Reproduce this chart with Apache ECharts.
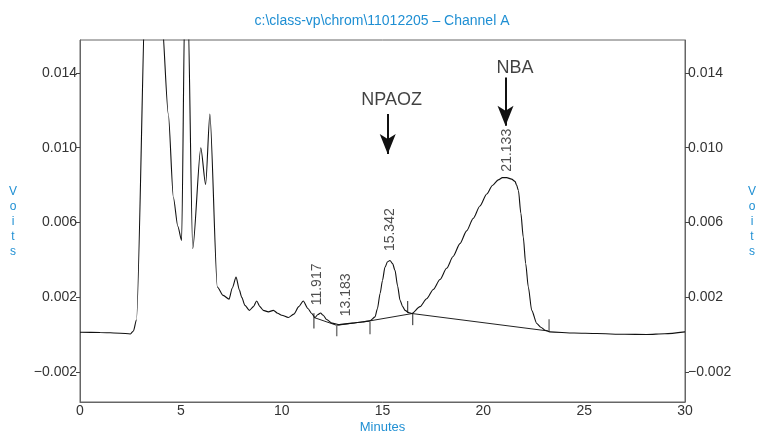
<!DOCTYPE html>
<html><head><meta charset="utf-8">
<script src="https://cdn.jsdelivr.net/npm/echarts@6/dist/echarts.min.js"></script>
<style>html,body{margin:0;padding:0;background:#fff}#c{width:757px;height:432px}</style>
</head><body><div id="c"></div>
<script>
// ---- data ----
const titleText = 'c:\\class-vp\\chrom\\11012205 \u2013 Channel A';
const xName = 'Minutes';
const yName = 'V\no\ni\nt\ns';
const yTickValues = [-0.002, 0.002, 0.006, 0.010, 0.014];
const signalTime = [0,1.0,2.0,2.5,2.65,2.8,3.3,3.7,4.05,4.38,4.63,4.85,5.04,5.2,5.27,5.34,5.59,5.99,6.23,6.44,6.81,7.1,7.39,7.55,7.74,7.9,8.02,8.18,8.4,8.6,8.76,8.92,9.09,9.34,9.59,9.8,10.0,10.33,10.6,10.85,11.07,11.3,11.49,11.65,11.8,11.93,12.05,12.23,12.5,12.81,13.5,14.0,14.38,14.63,14.75,14.88,15.0,15.12,15.25,15.37,15.5,15.62,15.75,15.87,16.0,16.12,16.3,16.45,16.86,17.19,17.52,17.85,18.18,18.5,18.84,19.17,19.5,19.83,20.17,20.45,20.74,20.95,21.16,21.4,21.57,21.65,21.74,21.86,21.98,22.1,22.23,22.4,22.65,22.85,23.06,23.3,24.5,25.62,27.0,28.1,29.0,30.0];
const signalVolts = [0.00013,0.00012,0.00008,0.00004,0.0002,0.0008,0.0205,0.03,0.0170,0.0118,0.00735,0.0058,0.00504,0.018,0.022,0.018,0.0046,0.0100,0.00803,0.0118,0.00255,0.0021,0.0019,0.0025,0.00308,0.0024,0.0020,0.00157,0.0013,0.0015,0.0018,0.0015,0.0013,0.00122,0.0013,0.00115,0.00104,0.00092,0.0011,0.0015,0.0018,0.0014,0.00113,0.00092,0.00108,0.00116,0.00105,0.00081,0.00062,0.00054,0.00062,0.00068,0.00074,0.00095,0.0014,0.0022,0.0029,0.0036,0.0039,0.00397,0.0038,0.00344,0.0026,0.00184,0.0015,0.0013,0.00118,0.00113,0.0015,0.00192,0.00242,0.00295,0.00355,0.00418,0.00487,0.00555,0.00622,0.00688,0.00752,0.00798,0.00828,0.0084,0.0084,0.00832,0.0082,0.0080,0.00771,0.0065,0.00522,0.0038,0.00255,0.0013,0.0006,0.0004,0.00024,0.00015,0.00009,0.00006,0.00002,0.00001,0.00005,0.00015];
// integration baselines: [t, v] points per segment
const baselineA = [[11.6, 0.00092],[12.73, 0.0005]];
const baselineB = [[12.73, 0.0005],[14.38, 0.00074],[16.47, 0.00113]];
const baselineC = [[16.47, 0.00113],[23.2, 0.0002]];
// integration tick marks: [t, vTop, vBottom]
const darkTicks = [[11.6, 0.00115, 0.00033],[16.25, 0.0018, 0.00117],[16.5, 0.00114, 0.00051]];
const grayTicks = [[12.73, 0.00051, -0.00008],[14.38, 0.00068, 0.00003],[23.26, 0.00082, 0.00019]];
// retention time labels: [t, v, text]
const peakLabels = [[11.75, 0.00157, '11.917'],[13.2, 0.00099, '13.183'],[15.4, 0.00447, '15.342'],[21.2, 0.00872, '21.133']];
// compound annotations: name, text position [t,v], arrow [t, vStart, vEnd]
const compoundNames = ['NPAOZ', 'NBA'];
const compoundTextPos = [[15.45, 0.01256],[21.57, 0.01427]];
const compoundArrows = [[15.26, 0.0118, 0.00966],[21.1, 0.01375, 0.01117]];

// ---- chart ----
const blue = '#1f8fd3';
const FF = 'Liberation Sans, Arial';
const chart = echarts.init(document.getElementById('c'), null, {renderer:'canvas'});
const fmt = v => (v < 0 ? '\u2212' : '') + Math.abs(v).toFixed(3);
const yAxisCommon = {
  type: 'value', min: -0.0036, max: 0.01576,
  splitLine: {show:false},
  axisLine: {show:true, lineStyle:{color:'#666', width:1}},
  axisTick: {show:true, length:4, inside:false, customValues: yTickValues, lineStyle:{color:'#444'}},
  axisLabel: {customValues: yTickValues, formatter: fmt, color:'#333', fontSize:14, fontFamily:FF, margin:3}
};
const series = [];
series.push({type:'line', data: signalTime.map((t,i)=>[t, signalVolts[i]]), showSymbol:false, smooth:0.25, smoothMonotone:'x',
  lineStyle:{color:'#111', width:1.1}, clip:true, z:5, silent:true});
[baselineA, baselineB, baselineC].forEach(seg => series.push({type:'line', data: seg, showSymbol:false,
  lineStyle:{color:'#222', width:1}, z:4, silent:true}));
darkTicks.forEach(tk => series.push({type:'line', data:[[tk[0],tk[1]],[tk[0],tk[2]]], showSymbol:false, lineStyle:{color:'#222', width:1}, z:4, silent:true}));
grayTicks.forEach(tk => series.push({type:'line', data:[[tk[0],tk[1]],[tk[0],tk[2]]], showSymbol:false, lineStyle:{color:'#777', width:1.5}, z:4, silent:true}));
series.push({type:'scatter', symbolSize:0, silent:true, z:6,
  data: peakLabels.map(p => ({value:[p[0], p[1]], label:{formatter:p[2]}})),
  label:{show:true, position:[0,0], rotate:90, align:'left', verticalAlign:'middle', color:'#222', fontSize:14, fontFamily:FF}});
series.push({type:'scatter', symbolSize:0, silent:true, z:6,
  data: compoundNames.map((n,i) => ({value: compoundTextPos[i], label:{formatter:n}})),
  label:{show:true, position:[0,0], align:'center', verticalAlign:'middle', color:'#111', fontSize:18, fontFamily:FF},
  markLine:{silent:true, symbol:['none','arrow'], symbolSize:[12,20], label:{show:false},
    lineStyle:{color:'#111', width:2, type:'solid'},
    data: compoundArrows.map(a => [{coord:[a[0], a[1]]},{coord:[a[0], a[2]]}])}});

chart.setOption({
  animation:false,
  backgroundColor:'#fff',
  title:{text:titleText, left:377, top:9, textAlign:'center', textStyle:{color:blue, fontSize:14, fontWeight:'normal', fontFamily:FF}},
  graphic:[
    {type:'text', x:13, y:184, silent:true, style:{text:yName, fill:blue, font:'12px ' + FF, lineHeight:15, align:'center', verticalAlign:'top'}},
    {type:'text', x:752, y:184, silent:true, style:{text:yName, fill:blue, font:'12px ' + FF, lineHeight:15, align:'center', verticalAlign:'top'}}
  ],
  grid:{left:80, right:72, top:40, bottom:30, show:true, borderColor:'#666', borderWidth:1, containLabel:false, outerBoundsMode:'none'},
  xAxis:{type:'value', min:0, max:30, interval:5, splitLine:{show:false},
    axisLine:{show:true, onZero:false, lineStyle:{color:'#666'}}, axisTick:{show:false},
    axisLabel:{color:'#333', fontSize:14, margin:2, fontFamily:FF},
    name:xName, nameLocation:'middle', nameGap:19, nameMoveOverlap:false, nameTextStyle:{color:blue, fontSize:13, fontFamily:FF, verticalAlign:'top'}},
  yAxis:[Object.assign({position:'left'}, yAxisCommon), Object.assign({position:'right'}, yAxisCommon)],
  series: series
});
</script></body></html>
